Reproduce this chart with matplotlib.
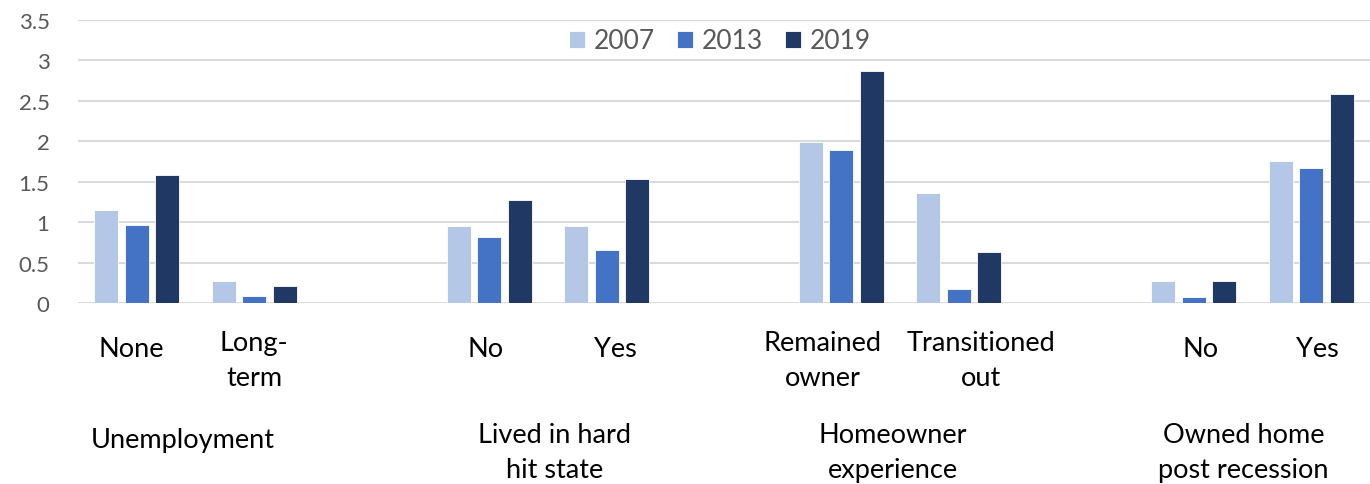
import matplotlib.pyplot as plt
import numpy as np

# survey groups and their sub-categories
groups = ['Unemployment', 'Lived in hard\nhit state', 'Homeowner\nexperience', 'Owned home\npost recession']
subcats = [['None', 'Long-\nterm'], ['No', 'Yes'], ['Remained\nowner', 'Transitioned\nout'], ['No', 'Yes']]

years = ['2007', '2013', '2019']
vals_2007 = [1.15, 0.27, 0.95, 0.95, 1.99, 1.36, 0.27, 1.76]
vals_2013 = [0.97, 0.09, 0.82, 0.65, 1.89, 0.17, 0.07, 1.67]
vals_2019 = [1.58, 0.21, 1.28, 1.53, 2.87, 0.63, 0.27, 2.58]

colors = ['#B4C7E7', '#4472C4', '#203864']

# small horizontal nudges (pixels) for the axis labels
sub_dx = [-5, 0, -4, 9, -19, 22, 7, 6]
grp_dx = [-13, 7, -7, -9]

plt.rcParams['font.family'] = ['Lato', 'DejaVu Sans']

W, H = 1370, 485
fig = plt.figure(figsize=(W / 100, H / 100), dpi=100)
ax = fig.add_axes([78 / W, 1 - 304 / H, 1 - 78 / W, (304 - 21) / H])

# one empty slot between groups
slots = np.array([g * 3 + s for g in range(len(groups)) for s in range(2)])
bw = 0.204
step = 0.26
for i, (yr, v) in enumerate(zip(years, [vals_2007, vals_2013, vals_2019])):
    ax.bar(slots + (i - 1) * step, v, width=bw, color=colors[i], label=yr,
           edgecolor='white', linewidth=0.6, zorder=2)

ax.set_xlim(-0.5, 10.5)
ax.set_ylim(0, 3.5)
ax.set_yticks(np.arange(0, 3.51, 0.5))
ax.set_yticklabels(['0', '0.5', '1', '1.5', '2', '2.5', '3', '3.5'])
ax.tick_params(axis='y', length=0, pad=20.5, labelsize=16, labelcolor='#595959')
ax.set_xticks([])
ax.yaxis.grid(True, color='#D9D9D9', lw=1.4, zorder=0)
ax.set_axisbelow(True)
for sp in ax.spines.values():
    sp.set_visible(False)

# two-level category labels under the axis, placed by last-line baseline
trans = ax.get_xaxis_transform()
slot_px = (W - 78) / 11
k = 0
for g, subs in enumerate(subcats):
    for s, lab in enumerate(subs):
        py = 386 if '\n' in lab else 357
        ax.text(slots[k] + sub_dx[k] / slot_px, (304 - py) / 283, lab, transform=trans,
                ha='center', va='baseline', fontsize=19.5, linespacing=1.5, color='black')
        k += 1
for g, lab in enumerate(groups):
    py = 478 if '\n' in lab else 448
    ax.text(g * 3 + 0.5 + grp_dx[g] / slot_px, (304 - py) / 283, lab, transform=trans,
            ha='center', va='baseline', fontsize=19.5, linespacing=1.5, color='black')

leg = ax.legend(loc='center', bbox_to_anchor=(0.497, 1 - 21 / 283), ncol=3,
                frameon=False, fontsize=19, handlelength=0.6, handleheight=0.6,
                handletextpad=0.34, columnspacing=0.83)
for t in leg.get_texts():
    t.set_color('#595959')

fig.savefig('out.png', dpi=100)
